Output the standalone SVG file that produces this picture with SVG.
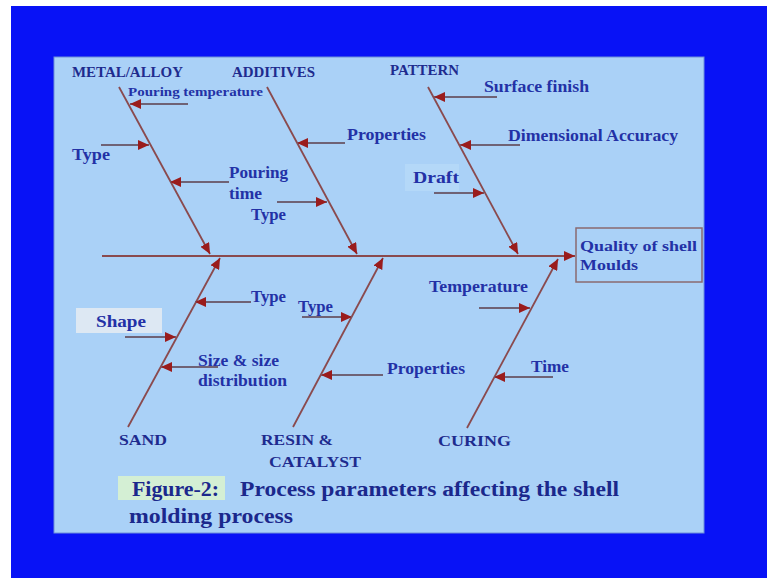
<svg xmlns="http://www.w3.org/2000/svg" width="767" height="578" viewBox="0 0 767 578">
<style>
text{font-family:"Liberation Serif","Times New Roman",serif;font-weight:bold;fill:#2331a6}
.cat{font-size:14px;fill:#1e2b8e}
.lbl{font-size:17px}
.sm{font-size:13px}
.ttl{font-size:20px;fill:#1b288c}
.rib{stroke:#8a4a4e;stroke-width:1.8;fill:none}
.sub{stroke:#6f6275;stroke-width:2;fill:none}
</style>
<defs>
<marker id="ah" markerUnits="userSpaceOnUse" markerWidth="12" markerHeight="10" refX="11" refY="5" orient="auto">
<path d="M0,0 L11,5 L0,10 Z" fill="#9a1c1c"/>
</marker>
</defs>
<rect width="767" height="578" fill="#ffffff"/>
<rect x="11" y="6" width="756" height="572" fill="#0812f6"/>
<rect x="54" y="57" width="650" height="476" fill="#aad1f7" stroke="#6f8fd8" stroke-width="1"/>

<g id="highlights">
<rect x="405" y="164" width="54" height="27" fill="#b4d8f8"/>
<rect x="76" y="308" width="86" height="25" fill="#dde8f3"/>
<rect x="118" y="476" width="107" height="24" fill="#d4efd4"/>
</g>

<g id="connectors">
<line class="rib" x1="102" y1="256" x2="575" y2="256" marker-end="url(#ah)"/>
<line class="rib" x1="119" y1="87" x2="210" y2="254" marker-end="url(#ah)"/>
<line class="rib" x1="267" y1="87" x2="357" y2="254" marker-end="url(#ah)"/>
<line class="rib" x1="428" y1="87" x2="518" y2="254" marker-end="url(#ah)"/>
<line class="rib" x1="128" y1="427" x2="220" y2="258" marker-end="url(#ah)"/>
<line class="rib" x1="293" y1="427" x2="383" y2="258" marker-end="url(#ah)"/>
<line class="rib" x1="467" y1="428" x2="558" y2="259" marker-end="url(#ah)"/>
<line class="sub" x1="188" y1="104" x2="130" y2="104" marker-end="url(#ah)"/>
<line class="sub" x1="101" y1="145" x2="149" y2="145" marker-end="url(#ah)"/>
<line class="sub" x1="229" y1="182" x2="170" y2="182" marker-end="url(#ah)"/>
<line class="sub" x1="277" y1="202" x2="327" y2="202" marker-end="url(#ah)"/>
<line class="sub" x1="345" y1="143" x2="297" y2="143" marker-end="url(#ah)"/>
<line class="sub" x1="497" y1="97" x2="434" y2="97" marker-end="url(#ah)"/>
<line class="sub" x1="520" y1="145" x2="460" y2="145" marker-end="url(#ah)"/>
<line class="sub" x1="434" y1="193" x2="484" y2="193" marker-end="url(#ah)"/>
<line class="sub" x1="251" y1="302" x2="195" y2="302" marker-end="url(#ah)"/>
<line class="sub" x1="125" y1="337" x2="176" y2="337" marker-end="url(#ah)"/>
<line class="sub" x1="218" y1="367" x2="161" y2="367" marker-end="url(#ah)"/>
<line class="sub" x1="302" y1="317" x2="352" y2="317" marker-end="url(#ah)"/>
<line class="sub" x1="383" y1="375" x2="321" y2="375" marker-end="url(#ah)"/>
<line class="sub" x1="479" y1="308" x2="530" y2="308" marker-end="url(#ah)"/>
<line class="sub" x1="553" y1="377" x2="494" y2="377" marker-end="url(#ah)"/>
</g>

<g id="effect">
<rect x="576" y="228" width="126" height="54" fill="none" stroke="#8a6a70" stroke-width="1.5"/>
<text class="lbl" x="580" y="251" textLength="117" lengthAdjust="spacingAndGlyphs" style="font-size:15px">Quality of shell</text>
<text class="lbl" x="580" y="270" textLength="58" lengthAdjust="spacingAndGlyphs" style="font-size:15px">Moulds</text>
</g>

<g id="metal-alloy">
<text class="cat" x="72" y="77" textLength="111" lengthAdjust="spacingAndGlyphs">METAL/ALLOY</text>
<text class="sm" x="128" y="96" textLength="135" lengthAdjust="spacingAndGlyphs">Pouring temperature</text>
<text class="lbl" x="72" y="160" textLength="38" lengthAdjust="spacingAndGlyphs">Type</text>
<text class="lbl" x="229" y="178" textLength="59" lengthAdjust="spacingAndGlyphs">Pouring</text>
<text class="lbl" x="229" y="199" textLength="33" lengthAdjust="spacingAndGlyphs">time</text>
</g>

<g id="additives">
<text class="cat" x="232" y="77" textLength="83" lengthAdjust="spacingAndGlyphs">ADDITIVES</text>
<text class="lbl" x="347" y="140" textLength="79" lengthAdjust="spacingAndGlyphs">Properties</text>
<text class="lbl" x="251" y="220" textLength="35" lengthAdjust="spacingAndGlyphs">Type</text>
</g>

<g id="pattern">
<text class="cat" x="390" y="75" textLength="69" lengthAdjust="spacingAndGlyphs">PATTERN</text>
<text class="lbl" x="484" y="92" textLength="105" lengthAdjust="spacingAndGlyphs">Surface finish</text>
<text class="lbl" x="508" y="141" textLength="170" lengthAdjust="spacingAndGlyphs">Dimensional Accuracy</text>
<text class="lbl" x="413" y="183" textLength="46" lengthAdjust="spacingAndGlyphs">Draft</text>
</g>

<g id="sand">
<text class="cat" x="119" y="445" textLength="48" lengthAdjust="spacingAndGlyphs">SAND</text>
<text class="lbl" x="251" y="302" textLength="35" lengthAdjust="spacingAndGlyphs">Type</text>
<text class="lbl" x="96" y="327" textLength="50" lengthAdjust="spacingAndGlyphs">Shape</text>
<text class="lbl" x="198" y="366" textLength="81" lengthAdjust="spacingAndGlyphs">Size &amp; size</text>
<text class="lbl" x="198" y="386" textLength="89" lengthAdjust="spacingAndGlyphs">distribution</text>
</g>

<g id="resin-catalyst">
<text class="cat" x="261" y="445" textLength="72" lengthAdjust="spacingAndGlyphs">RESIN &amp;</text>
<text class="cat" x="269" y="467" textLength="92" lengthAdjust="spacingAndGlyphs">CATALYST</text>
<text class="lbl" x="298" y="312" textLength="35" lengthAdjust="spacingAndGlyphs">Type</text>
<text class="lbl" x="387" y="374" textLength="78" lengthAdjust="spacingAndGlyphs">Properties</text>
</g>

<g id="curing">
<text class="cat" x="438" y="446" textLength="73" lengthAdjust="spacingAndGlyphs">CURING</text>
<text class="lbl" x="429" y="292" textLength="99" lengthAdjust="spacingAndGlyphs">Temperature</text>
<text class="lbl" x="531" y="372" textLength="38" lengthAdjust="spacingAndGlyphs">Time</text>
</g>

<g id="caption">
<text class="ttl" x="132" y="496" textLength="87" lengthAdjust="spacingAndGlyphs">Figure-2:</text>
<text class="ttl" x="240" y="496" textLength="379" lengthAdjust="spacingAndGlyphs">Process parameters affecting the shell</text>
<text class="ttl" x="129" y="523" textLength="164" lengthAdjust="spacingAndGlyphs">molding process</text>
</g>
</svg>
